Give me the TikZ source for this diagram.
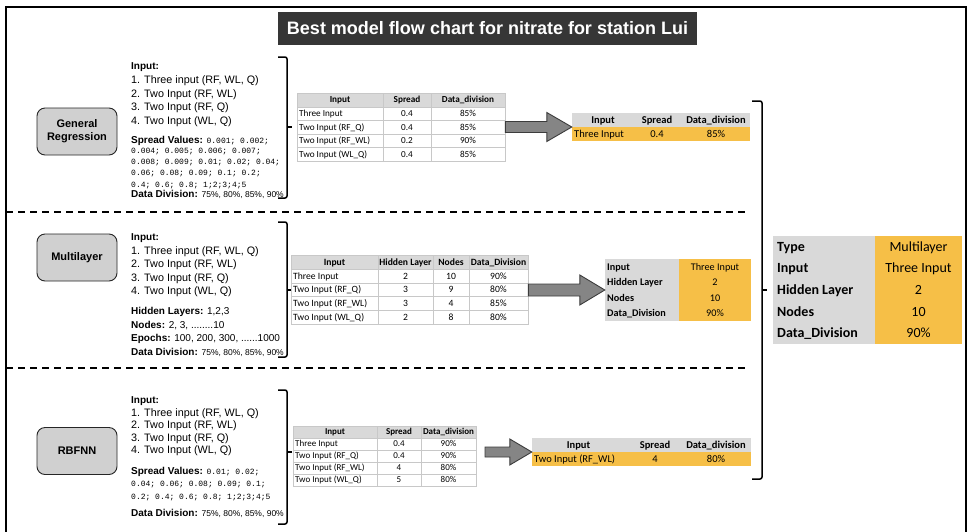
\documentclass[tikz,border=0pt]{standalone}
\usepackage{fontspec}
\setmainfont{Liberation Sans}
\newfontfamily\fcal{Carlito}
\newfontfamily\fmono{Liberation Mono}
\usetikzlibrary{calc}
\definecolor{hdr}{HTML}{D9D9D9}
\definecolor{gold}{HTML}{F6BF47}
\definecolor{gridc}{HTML}{C8C8C8}
\definecolor{boxgray}{HTML}{D0D0D0}
\definecolor{titlebg}{HTML}{363636}
\definecolor{arrowfill}{HTML}{858585}
\definecolor{arrowline}{HTML}{3C3C3C}
\newcommand\blockarrow[5]{%
  \filldraw[fill=arrowfill, draw=arrowline, line width=0.9pt, line join=miter] let \p1=(#1), \p2=(#2) in
  (\x1,\y2+#3pt) -- (\x2-#5pt,\y2+#3pt) -- (\x2-#5pt,\y2+#4pt) -- (\x2,\y2) --
  (\x2-#5pt,\y2-#4pt) -- (\x2-#5pt,\y2-#3pt) -- (\x1,\y2-#3pt) -- cycle;}
\begin{document}
\begin{tikzpicture}[x=1pt,y=-1pt,
  frame/.style={line width=2pt},
  sepline/.style={line width=1.8pt, dash pattern=on 7pt off 5pt},
  model/.style={rounded corners=8pt, fill=boxgray, draw=black!85, line width=0.9pt,
    font=\bfseries\fontsize{11}{13}\selectfont, align=center,
    minimum width=80pt, minimum height=47pt, inner sep=0pt},
  brak/.style={line width=1.5pt, rounded corners=2pt},
  af/.style={inner sep=0pt, anchor=west, font=\fontsize{#1}{#1}\selectfont,
    text height={0.716*#1pt+0.5pt}, text depth=0.5pt},
  mf/.style={inner sep=0pt, anchor=west, font=\fmono\fontsize{8}{8}\selectfont,
    text height=5.6pt, text depth=0.5pt},
  cf/.style={inner sep=0pt, font=\fcal\fontsize{#1}{#1}\selectfont,
    text height={0.644*#1pt+0.5pt}, text depth=0.5pt},
  tbl/.style={draw=gridc, line width=0.6pt, inner sep=0pt},
  gridl/.style={draw=gridc, line width=0.6pt},
  plain/.style={inner sep=0pt}
]
\useasboundingbox (0,0) rectangle (969,531);
\clip (0,0) rectangle (969,531);
\fill[white] (0,0) rectangle (969,531);

% frame
\draw[frame] (6,545) -- (6,7) -- (966,7) -- (966,545);

% title
\node[fill=titlebg, minimum width=419pt, minimum height=33pt, inner sep=0pt, text=white,
  font=\bfseries\fontsize{18}{20}\selectfont] (title) at (487.5,28.5)
  {Best model flow chart for nitrate for station Lui};

% separators
\draw[sepline] (6,212) -- (748,212);
\draw[sepline] (6,368) -- (748,368);

% model boxes
\node[model] (gr) at (77,131.5) {General\\Regression};
\node[model] (ml) at (77,257.5) {Multilayer};
\node[model] (rb) at (77,451) {RBFNN};

% ---------- section 1 parameters ----------
\node[af=10] (g1) at (131,66) {\bfseries Input:};
\node[af=10.8] (g2) at (131,80) {1. Three input (RF, WL, Q)};
\node[af=10.8] (g3) at (131,93.5) {2. Two Input (RF, WL)};
\node[af=10.8] (g4) at (131,107) {3. Two Input (RF, Q)};
\node[af=10.8] (g5) at (131,120.5) {4. Two Input (WL, Q)};
\node[af=10] (g6) at (131,140) {\bfseries Spread Values: {\fmono\mdseries\fontsize{8}{8}\selectfont 0.001; 0.002;}};
\node[mf] (g7) at (131,151) {0.004; 0.005; 0.006; 0.007;};
\node[mf] (g8) at (131,162) {0.008; 0.009; 0.01; 0.02; 0.04;};
\node[mf] (g9) at (131,173) {0.06; 0.08; 0.09; 0.1; 0.2;};
\node[mf] (g10) at (131,184.5) {0.4; 0.6; 0.8; 1;2;3;4;5};
\node[af=10] (g11) at (131,194) {\bfseries Data Division: {\mdseries\fontsize{8.5}{8.5}\selectfont 75\%, 80\%, 85\%, 90\%}};
\draw[brak] (278,57) -- (287,57) -- (287,198) -- (278,198);
\draw[brak] (287,127) -- (292,127);

% ---------- section 2 parameters ----------
\node[af=10] (m1) at (131,237) {\bfseries Input:};
\node[af=10.8] (m2) at (131,250.5) {1. Three input (RF, WL, Q)};
\node[af=10.8] (m3) at (131,264) {2. Two Input (RF, WL)};
\node[af=10.8] (m4) at (131,277.5) {3. Two Input (RF, Q)};
\node[af=10.8] (m5) at (131,291) {4. Two Input (WL, Q)};
\node[af=10] (m6) at (131,311) {\bfseries Hidden Layers: \mdseries 1,2,3};
\node[af=10] (m7) at (131,324.5) {\bfseries Nodes: \mdseries 2, 3, ........10};
\node[af=10] (m8) at (131,338) {\bfseries Epochs: \mdseries 100, 200, 300, ......1000};
\node[af=10] (m9) at (131,351.5) {\bfseries Data Division: {\mdseries\fontsize{8.5}{8.5}\selectfont 75\%, 80\%, 85\%, 90\%}};
\draw[brak] (278,222) -- (287,222) -- (287,357) -- (278,357);
\draw[brak] (287,290) -- (292,290);

% ---------- section 3 parameters ----------
\node[af=10] (r1l) at (131,400) {\bfseries Input:};
\node[af=10.8] (r2l) at (131,412.5) {1. Three input (RF, WL, Q)};
\node[af=10.8] (r3l) at (131,425) {2. Two Input (RF, WL)};
\node[af=10.8] (r4l) at (131,437.5) {3. Two Input (RF, Q)};
\node[af=10.8] (r5l) at (131,450) {4. Two Input (WL, Q)};
\node[af=10] (r6l) at (131,471) {\bfseries Spread Values: {\fmono\mdseries\fontsize{8}{8}\selectfont 0.01; 0.02;}};
\node[mf] (r7l) at (131,484) {0.04; 0.06; 0.08; 0.09; 0.1;};
\node[mf] (r8l) at (131,497) {0.2; 0.4; 0.6; 0.8; 1;2;3;4;5};
\node[af=10] (r9l) at (131,513) {\bfseries Data Division: {\mdseries\fontsize{8.5}{8.5}\selectfont 75\%, 80\%, 85\%, 90\%}};
\draw[brak] (278,390) -- (287,390) -- (287,524) -- (278,524);
\draw[brak] (287,452) -- (292,452);

% ---------- table t1 ----------
\fill[hdr] (297,93) rectangle (505,107);
\draw[gridl] (297,107) -- (505,107) (297,120.5) -- (505,120.5) (297,134) -- (505,134) (297,147.5) -- (505,147.5)
  (383,93) -- (383,161) (431,93) -- (431,161);
\node[tbl, minimum width=208pt, minimum height=68pt] (t1) at (401,127) {};
\node[cf=9.2] (t1h1) at (340,100) {\bfseries Input};
\node[cf=9.2] (t1h2) at (407,100) {\bfseries Spread};
\node[cf=9.2] (t1h3) at (468,100) {\bfseries Data\_division};
\node[cf=9.2, anchor=west] (t1a1) at (299,113.75) {Three Input};
\node[cf=9.2] (t1a2) at (407,113.75) {0.4};
\node[cf=9.2] (t1a3) at (468,113.75) {85\%};
\node[cf=9.2, anchor=west] (t1b1) at (299,127.25) {Two Input (RF\_Q)};
\node[cf=9.2] (t1b2) at (407,127.25) {0.4};
\node[cf=9.2] (t1b3) at (468,127.25) {85\%};
\node[cf=9.2, anchor=west] (t1c1) at (299,140.75) {Two Input (RF\_WL)};
\node[cf=9.2] (t1c2) at (407,140.75) {0.2};
\node[cf=9.2] (t1c3) at (468,140.75) {90\%};
\node[cf=9.2, anchor=west] (t1d1) at (299,154.25) {Two Input (WL\_Q)};
\node[cf=9.2] (t1d2) at (407,154.25) {0.4};
\node[cf=9.2] (t1d3) at (468,154.25) {85\%};

% ---------- result r1 ----------
\fill[hdr] (572,113) rectangle (750,127);
\fill[gold] (572,127) rectangle (750,141);
\node[plain, minimum width=178pt, minimum height=28pt] (r1) at (661,127) {};
\node[cf=10.5] (r1h1) at (603,120) {\bfseries Input};
\node[cf=10.5] (r1h2) at (657,120) {\bfseries Spread};
\node[cf=10.5] (r1h3) at (716,120) {\bfseries Data\_division};
\node[cf=10.5, anchor=west] (r1a1) at (574,134) {Three Input};
\node[cf=10.5] (r1a2) at (657,134) {0.4};
\node[cf=10.5] (r1a3) at (716,134) {85\%};
\blockarrow{t1.east}{r1.west}{5.5}{14.5}{25}

% ---------- table t2 ----------
\fill[hdr] (291,255) rectangle (528,269);
\draw[gridl] (291,269) -- (528,269) (291,283) -- (528,283) (291,296.5) -- (528,296.5) (291,310) -- (528,310)
  (378,255) -- (378,324) (433,255) -- (433,324) (469,255) -- (469,324);
\node[tbl, minimum width=237pt, minimum height=69pt] (t2) at (409.5,289.5) {};
\node[cf=9.6] (t2h1) at (334.5,262) {\bfseries Input};
\node[cf=9.6] (t2h2) at (405.5,262) {\bfseries Hidden Layer};
\node[cf=9.6] (t2h3) at (451,262) {\bfseries Nodes};
\node[cf=9.6] (t2h4) at (498.5,262) {\bfseries Data\_Division};
\node[cf=9.6, anchor=west] (t2a1) at (293,276) {Three Input};
\node[cf=9.6] (t2a2) at (405.5,276) {2};
\node[cf=9.6] (t2a3) at (451,276) {10};
\node[cf=9.6] (t2a4) at (498.5,276) {90\%};
\node[cf=9.6, anchor=west] (t2b1) at (293,289.75) {Two Input (RF\_Q)};
\node[cf=9.6] (t2b2) at (405.5,289.75) {3};
\node[cf=9.6] (t2b3) at (451,289.75) {9};
\node[cf=9.6] (t2b4) at (498.5,289.75) {80\%};
\node[cf=9.6, anchor=west] (t2c1) at (293,303.25) {Two Input (RF\_WL)};
\node[cf=9.6] (t2c2) at (405.5,303.25) {3};
\node[cf=9.6] (t2c3) at (451,303.25) {4};
\node[cf=9.6] (t2c4) at (498.5,303.25) {85\%};
\node[cf=9.6, anchor=west] (t2d1) at (293,317) {Two Input (WL\_Q)};
\node[cf=9.6] (t2d2) at (405.5,317) {2};
\node[cf=9.6] (t2d3) at (451,317) {8};
\node[cf=9.6] (t2d4) at (498.5,317) {80\%};

% ---------- result r2 ----------
\fill[hdr] (605,259) rectangle (679,321);
\fill[gold] (679,259) rectangle (751,321);
\node[plain, minimum width=146pt, minimum height=62pt] (r2) at (678,290) {};
\node[cf=10.2, anchor=west] (r2a1) at (607,266.75) {\bfseries Input};
\node[cf=10.2, anchor=west] (r2b1) at (607,282.25) {\bfseries Hidden Layer};
\node[cf=10.2, anchor=west] (r2c1) at (607,297.75) {\bfseries Nodes};
\node[cf=10.2, anchor=west] (r2d1) at (607,313.25) {\bfseries Data\_Division};
\node[cf=10.2] (r2a2) at (715,266.75) {Three Input};
\node[cf=10.2] (r2b2) at (715,282.25) {2};
\node[cf=10.2] (r2c2) at (715,297.75) {10};
\node[cf=10.2] (r2d2) at (715,313.25) {90\%};
\blockarrow{t2.east}{r2.west}{6}{15}{25}

% ---------- table t3 ----------
\fill[hdr] (293,426) rectangle (476,438);
\draw[gridl] (293,438) -- (476,438) (293,450) -- (476,450) (293,462) -- (476,462) (293,474) -- (476,474)
  (377,426) -- (377,486) (421,426) -- (421,486);
\node[tbl, minimum width=183pt, minimum height=60pt] (t3) at (384.5,456) {};
\node[cf=9] (t3h1) at (335,432) {\bfseries Input};
\node[cf=9] (t3h2) at (399,432) {\bfseries Spread};
\node[cf=9] (t3h3) at (448.5,432) {\bfseries Data\_division};
\node[cf=9, anchor=west] (t3a1) at (295,444) {Three Input};
\node[cf=9] (t3a2) at (399,444) {0.4};
\node[cf=9] (t3a3) at (448.5,444) {90\%};
\node[cf=9, anchor=west] (t3b1) at (295,456) {Two Input (RF\_Q)};
\node[cf=9] (t3b2) at (399,456) {0.4};
\node[cf=9] (t3b3) at (448.5,456) {90\%};
\node[cf=9, anchor=west] (t3c1) at (295,468) {Two Input (RF\_WL)};
\node[cf=9] (t3c2) at (399,468) {4};
\node[cf=9] (t3c3) at (448.5,468) {80\%};
\node[cf=9, anchor=west] (t3d1) at (295,480) {Two Input (WL\_Q)};
\node[cf=9] (t3d2) at (399,480) {5};
\node[cf=9] (t3d3) at (448.5,480) {80\%};

% ---------- result r3 ----------
\fill[hdr] (532,438) rectangle (751,452);
\fill[gold] (532,452) rectangle (751,466);
\node[plain, minimum width=219pt, minimum height=28pt] (r3) at (641.5,452) {};
\node[cf=10.5] (r3h1) at (578.5,445) {\bfseries Input};
\node[cf=10.5] (r3h2) at (655,445) {\bfseries Spread};
\node[cf=10.5] (r3h3) at (716,445) {\bfseries Data\_division};
\node[cf=10.5, anchor=west] (r3a1) at (534,459) {Two Input (RF\_WL)};
\node[cf=10.5] (r3a2) at (655,459) {4};
\node[cf=10.5] (r3a3) at (716,459) {80\%};
\coordinate (a3s) at (485,456);
\blockarrow{a3s}{r3.west}{5}{13}{22}

% ---------- big bracket and final table ----------
\draw[brak] (752,101) -- (762,101) -- (762,479) -- (752,479);
\draw[brak] (762,290) -- (767,290);
\fill[hdr] (773,236) rectangle (875,344);
\fill[gold] (875,236) rectangle (962,344);
\node[plain, minimum width=189pt, minimum height=108pt] (ft) at (867.5,290) {};
\node[cf=14, anchor=west] (fa1) at (777,246.8) {\bfseries Type};
\node[cf=14, anchor=west] (fb1) at (777,268.4) {\bfseries Input};
\node[cf=14, anchor=west] (fc1) at (777,290) {\bfseries Hidden Layer};
\node[cf=14, anchor=west] (fd1) at (777,311.6) {\bfseries Nodes};
\node[cf=14, anchor=west] (fe1) at (777,333.2) {\bfseries Data\_Division};
\node[cf=14] (fa2) at (918.5,246.8) {Multilayer};
\node[cf=14] (fb2) at (918.5,268.4) {Three Input};
\node[cf=14] (fc2) at (918.5,290) {2};
\node[cf=14] (fd2) at (918.5,311.6) {10};
\node[cf=14] (fe2) at (918.5,333.2) {90\%};
\end{tikzpicture}
\end{document}
